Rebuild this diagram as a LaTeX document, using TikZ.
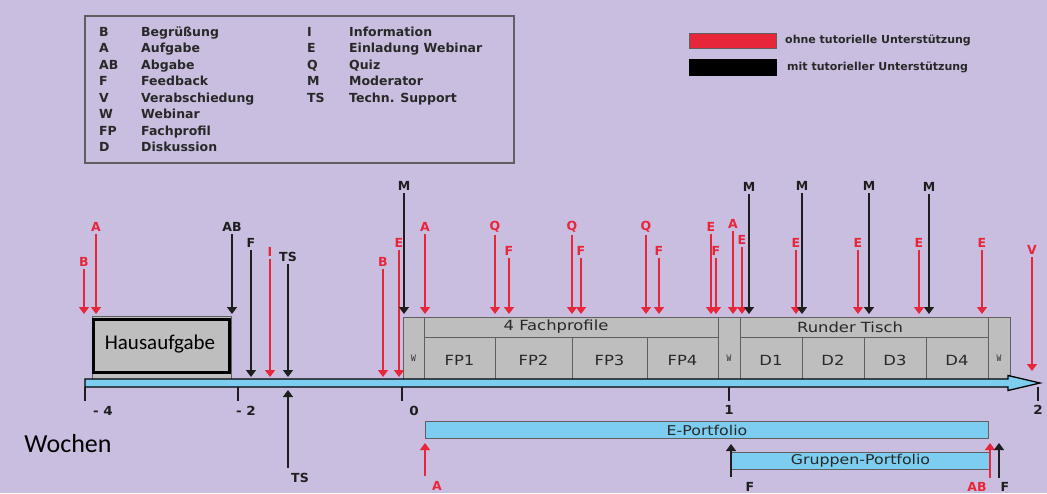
\documentclass[tikz,border=0pt]{standalone}
\usepackage{fontspec}
\setmainfont{DejaVu Sans}
\newfontfamily\carl{Carlito}
\newfontfamily\monof{Liberation Mono}
\newfontfamily\widef[FakeStretch=1.17]{DejaVu Sans}
\newfontfamily\widebf[FakeStretch=1.08]{DejaVu Sans}
\usetikzlibrary{arrows.meta}
\definecolor{bg}{RGB}{202,190,224}
\definecolor{myred}{RGB}{232,38,58}
\definecolor{myblk}{RGB}{30,30,30}
\definecolor{txt}{RGB}{40,40,40}
\definecolor{boxgray}{RGB}{190,190,190}
\definecolor{bord}{RGB}{95,95,95}
\definecolor{lblue}{RGB}{125,205,240}
\begin{document}
\begin{tikzpicture}[x=1pt,y=-1pt,
  lbl/.style={font=\bfseries\fontsize{12.5}{14}\selectfont, inner sep=2.5pt},
  arr/.style={line width=1.3pt, -{Triangle[width=10pt,length=7pt]}},
  leg/.style={font=\bfseries\fontsize{12.5}{14}\selectfont, text=txt, anchor=base west, inner sep=0pt},
  leg2/.style={font=\bfseries\fontsize{11}{13}\selectfont, text=txt, anchor=west, inner sep=0pt},
  blk/.style={fill=boxgray, draw=bord, line width=1pt},
  cell/.style={font=\widef\fontsize{14}{16}\selectfont, text=txt, inner sep=0pt},
  wl/.style={font=\monof\fontsize{10}{12}\selectfont, text=txt, inner sep=0pt, xscale=0.8},
  ticklbl/.style={font=\widebf\bfseries\fontsize{12.5}{14}\selectfont, text=myblk, inner sep=0pt},
  bar/.style={fill=lblue, draw=bord, line width=1pt, anchor=north west, inner sep=0pt,
              font=\widef\fontsize{13.5}{15}\selectfont, text=txt},
  big/.style={font=\carl\fontsize{21}{23}\selectfont, text=black, inner sep=0pt}
]
\useasboundingbox (0,0) rectangle (1047,493);
\fill[bg] (0,0) rectangle (1047,493);

% ---------- abbreviation legend ----------
\draw[draw=bord, line width=1.2pt] (85,16) rectangle (514,163);
\foreach \a/\d [count=\i from 0] in {B/Begrüßung, A/Aufgabe, AB/Abgabe, F/Feedback,
    V/Verabschiedung, W/Webinar, FP/Fachprofil, D/Diskussion}{
  \node[leg] (la\i) at (99,36.5+16.43*\i) {\a};
  \node[leg] (ld\i) at (141,36.5+16.43*\i) {\d};
}
\foreach \a/\d [count=\i from 0] in {I/Information, E/Einladung Webinar, Q/Quiz,
    M/Moderator, TS/Techn. Support}{
  \node[leg] (ra\i) at (307,36.5+16.43*\i) {\a};
  \node[leg] (rd\i) at (349,36.5+16.43*\i) {\d};
}

% ---------- colour legend ----------
\draw[fill=myred, draw=bord, line width=0.8pt] (689,33) rectangle (776,48);
\draw[fill=black, draw=black, line width=0.8pt] (689,59) rectangle (776,75);
\node[leg2] (cr) at (785,40) {ohne tutorielle Unterstützung};
\node[leg2] (cb) at (787,67) {mit tutorieller Unterstützung};

% ---------- blocks ----------
\draw[fill=boxgray, draw=bord, line width=0.8pt] (92,316) rectangle (231,379);
\draw[fill=boxgray, draw=black, line width=2.5pt] (93.5,319.5) rectangle (229.5,372.5);
\node[big] (haus) at (160,344) {Hausaufgabe};

\draw[blk] (403,317) rectangle (424,379);
\node[wl] (w1) at (413.5,358) {W};
\draw[blk] (424,317) rectangle (718,379);
\draw[draw=bord, line width=1pt] (424,337) -- (718,337)
  (495,337) -- (495,379) (572,337) -- (572,379) (647,337) -- (647,379);
\node[cell] (fp) at (556,327) {4 Fachprofile};
\node[cell] (fp1) at (459.5,360) {FP1};
\node[cell] (fp2) at (533.5,360) {FP2};
\node[cell] (fp3) at (609.5,360) {FP3};
\node[cell] (fp4) at (682.5,360) {FP4};

\draw[blk] (718,317) rectangle (740,379);
\node[wl] (w2) at (729,358) {W};
\draw[blk] (740,317) rectangle (988,379);
\draw[draw=bord, line width=1pt] (740,337) -- (988,337)
  (802,337) -- (802,379) (864,337) -- (864,379) (926,337) -- (926,379);
\node[cell] (rt) at (850,327) {Runder Tisch};
\node[cell] (d1) at (771,360) {D1};
\node[cell] (d2) at (833,360) {D2};
\node[cell] (d3) at (895,360) {D3};
\node[cell] (d4) at (957,360) {D4};
\draw[blk] (988,317) rectangle (1010,379);
\node[wl] (w3) at (999,358) {W};

% ---------- time axis ----------
\draw[fill=lblue, draw=black, line width=1.3pt, line join=miter]
  (85,379) -- (1008,379) -- (1008,375.5) -- (1040,383) -- (1008,390.5) -- (1008,387) -- (85,387) -- cycle;
\foreach \x in {85,238,402,729,1038}{
  \draw[line width=2pt, draw=myblk] (\x,387) -- (\x,401);
}
\node[ticklbl] (t4) at (103,411) {- 4};
\node[ticklbl] (t2) at (246,411) {- 2};
\node[ticklbl] (t0) at (414,411) {0};
\node[ticklbl] (t1) at (729,410) {1};
\node[ticklbl] (t5) at (1038,410) {2};
\node[big, font=\carl\fontsize{26}{28}\selectfont] (woch) at (68,444) {Wochen};

% ---------- portfolio bars ----------
\node[bar, minimum width=563pt, minimum height=17pt] (ep) at (425,421) {E-Portfolio};
\node[bar, minimum width=258pt, minimum height=17pt] (gp) at (731,452) {Gruppen-Portfolio};

% ---------- downward arrows ----------
\coordinate (T) at (0,314);
\coordinate (L) at (0,377);
\coordinate (Vt) at (0,371);
\foreach \x/\y/\t/\lab/\c [count=\i] in {
  84/262/T/B/myred, 96/227/T/A/myred, 232/227/T/AB/myblk,
  251/243/L/F/myblk, 270/252/L/I/myred, 288/257/L/TS/myblk,
  383/262/L/B/myred, 399/243/L/E/myred, 404/186/T/M/myblk,
  425/227/T/A/myred, 495/227/T/Q/myred, 509/251/T/F/myred,
  572/227/T/Q/myred, 581/251/T/F/myred, 646/227/T/Q/myred,
  659/251/T/F/myred, 711/227/T/E/myred, 716/251/T/F/myred,
  733/224/T/A/myred, 742/240/T/E/myred, 749/187/T/M/myblk,
  796/243/T/E/myred, 802/186/T/M/myblk, 858/243/T/E/myred,
  869/186/T/M/myblk, 919/243/T/E/myred, 929/187/T/M/myblk,
  982/243/T/E/myred, 1032/250/Vt/V/myred}{
  \node[lbl, text=\c] (dn\i) at (\x,\y) {\lab};
  \draw[arr, color=\c] (dn\i.south) -- (dn\i.south |- \t);
}

% ---------- upward arrows ----------
\coordinate (uts0) at (288,468); \coordinate (uts1) at (288,390);
\draw[arr, color=myblk] (uts0) -- (uts1);
\node[lbl, text=myblk] (uts) at (300,478) {TS};

\coordinate (ua0) at (425,476); \coordinate (ua1) at (425,443);
\draw[arr, color=myred] (ua0) -- (ua1);
\node[lbl, text=myred] (ua) at (437,486) {A};

\coordinate (uf0) at (731,477); \coordinate (uf1) at (731,444);
\draw[arr, color=myblk] (uf0) -- (uf1);
\node[lbl, text=myblk] (uf) at (750,487) {F};

\coordinate (uab0) at (990,478); \coordinate (uab1) at (990,443);
\draw[arr, color=myred] (uab0) -- (uab1);
\node[lbl, text=myred] (uab) at (977,487) {AB};

\coordinate (uf20) at (999,478); \coordinate (uf21) at (999,443);
\draw[arr, color=myblk] (uf20) -- (uf21);
\node[lbl, text=myblk] (uf2) at (1005,487) {F};
\end{tikzpicture}
\end{document}
